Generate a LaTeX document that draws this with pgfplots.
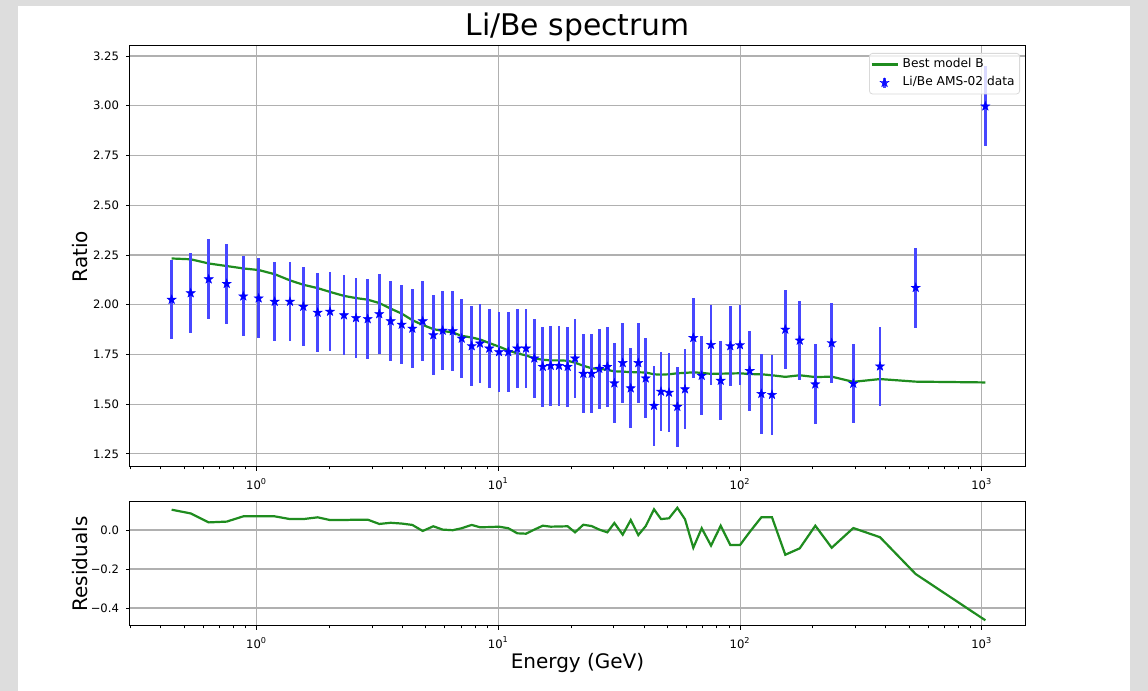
\documentclass[border=0pt]{standalone}
\usepackage{fontspec}
\setmainfont{DejaVu Sans}
\usepackage{pgfplots}
\usepackage{pgfplotstable}
\pgfplotsset{compat=1.18}

\definecolor{mgreen}{HTML}{1F8C1F}
\definecolor{bordergray}{HTML}{DDDDDD}
\definecolor{gridgray}{HTML}{B0B0B0}

% filled five-pointed star, like matplotlib's '*'
\pgfdeclareplotmark{fstar}{%
  \pgfpathmoveto{\pgfpointpolar{90}{\pgfplotmarksize}}%
  \pgfpathlineto{\pgfpointpolar{126}{0.4\pgfplotmarksize}}%
  \pgfpathlineto{\pgfpointpolar{162}{\pgfplotmarksize}}%
  \pgfpathlineto{\pgfpointpolar{198}{0.4\pgfplotmarksize}}%
  \pgfpathlineto{\pgfpointpolar{234}{\pgfplotmarksize}}%
  \pgfpathlineto{\pgfpointpolar{270}{0.4\pgfplotmarksize}}%
  \pgfpathlineto{\pgfpointpolar{306}{\pgfplotmarksize}}%
  \pgfpathlineto{\pgfpointpolar{342}{0.4\pgfplotmarksize}}%
  \pgfpathlineto{\pgfpointpolar{18}{\pgfplotmarksize}}%
  \pgfpathlineto{\pgfpointpolar{54}{0.4\pgfplotmarksize}}%
  \pgfpathclose
  \pgfusepathqfillstroke
}

\newcommand\tickfont{\fontsize{5.8}{6.5}\selectfont}
\newcommand\labfont{\fontsize{8.2}{9.5}\selectfont}

% E (GeV), Li/Be ratio, error, model B, residual
\pgfplotstableread{
E ratio err model res
0.4448 2.025 0.2 2.232 0.104
0.5333 2.058 0.2 2.228 0.085
0.6330 2.128 0.2 2.207 0.039
0.7515 2.105 0.2 2.194 0.043
0.8800 2.042 0.2 2.182 0.070
1.019 2.032 0.2 2.174 0.070
1.187 2.015 0.2 2.153 0.070
1.373 2.015 0.2 2.122 0.056
1.559 1.990 0.2 2.100 0.056
1.788 1.960 0.2 2.083 0.065
2.011 1.965 0.2 2.064 0.051
2.297 1.947 0.2 2.044 0.051
2.576 1.933 0.2 2.033 0.053
2.879 1.928 0.2 2.025 0.053
3.215 1.953 0.2 2.008 0.031
3.584 1.917 0.2 1.980 0.037
3.981 1.900 0.2 1.955 0.033
4.404 1.880 0.2 1.922 0.026
4.862 1.917 0.2 1.898 -0.005
5.379 1.847 0.2 1.877 0.019
5.882 1.870 0.2 1.868 0.002
6.471 1.867 0.2 1.860 -0.001
7.051 1.830 0.2 1.843 0.009
7.755 1.792 0.2 1.835 0.026
8.392 1.805 0.2 1.825 0.014
9.171 1.780 0.2 1.807 0.015
10.06 1.762 0.2 1.789 0.017
10.99 1.762 0.2 1.770 0.009
11.97 1.780 0.2 1.755 -0.017
13.01 1.780 0.2 1.745 -0.019
14.08 1.730 0.2 1.730 0.002
15.26 1.688 0.2 1.723 0.022
16.46 1.693 0.2 1.720 0.017
17.81 1.693 0.2 1.720 0.018
19.35 1.688 0.2 1.718 0.019
20.75 1.730 0.2 1.708 -0.012
22.46 1.653 0.2 1.693 0.027
24.32 1.653 0.2 1.680 0.020
26.15 1.678 0.2 1.678 0.002
28.22 1.688 0.2 1.672 -0.012
30.18 1.605 0.2 1.665 0.036
32.68 1.707 0.2 1.663 -0.024
35.28 1.580 0.2 1.661 0.051
37.92 1.707 0.2 1.660 -0.026
40.69 1.630 0.2 1.659 0.020
44.04 1.492 0.2 1.650 0.106
47.07 1.563 0.2 1.648 0.056
50.80 1.558 0.2 1.650 0.060
54.99 1.487 0.2 1.655 0.114
59.16 1.575 0.2 1.657 0.055
64.03 1.833 0.2 1.660 -0.091
69.36 1.643 0.2 1.657 0.009
75.81 1.798 0.2 1.652 -0.080
83.13 1.618 0.2 1.653 0.022
91.09 1.792 0.2 1.654 -0.077
99.9 1.797 0.2 1.655 -0.077
109.6 1.667 0.2 1.651 -0.010
122.4 1.552 0.2 1.650 0.065
135.5 1.547 0.2 1.645 0.065
153.8 1.875 0.2 1.637 -0.127
176.5 1.820 0.2 1.645 -0.094
204.7 1.600 0.2 1.636 0.022
239.3 1.807 0.2 1.638 -0.091
294.0 1.603 0.2 1.612 0.010
379.2 1.690 0.2 1.626 -0.037
532.7 2.085 0.2 1.613 -0.226
1034 2.997 0.2 1.609 -0.463
}\libe

\pgfplotsset{
  lbaxis/.style={
    scale only axis,
    width=447.5pt,
    xmin=0.2991, xmax=1509,
    xtick={1,10,100,1000},
    xticklabels={10\textsuperscript{0},10\textsuperscript{1},10\textsuperscript{2},10\textsuperscript{3}},
    minor xtick={0.3,0.4,0.5,0.6,0.7,0.8,0.9,2,3,4,5,6,7,8,9,20,30,40,50,60,70,80,90,200,300,400,500,600,700,800,900},
    tick pos=left,
    tick align=outside,
    major tick length=2pt,
    minor tick length=1.2pt,
    tick style={black, line width=0.4pt},
    tick label style={font=\tickfont},
    /pgf/number format/assume math mode=true,
    grid=major,
    major grid style={gridgray, line width=0.6pt},
    axis line style={black, line width=0.5pt},
    label style={font=\labfont},
  },
}

\begin{document}
\begin{tikzpicture}
\fill[bordergray] (0pt,0pt) rectangle (574pt,345.5pt);
\fill[white] (9pt,0pt) rectangle (565pt,342.5pt);

\begin{semilogxaxis}[
  lbaxis,
  at={(65pt,112pt)}, anchor=south west,
  height=210.5pt,
  ymin=1.184, ymax=3.300,
  ytick={1.25,1.5,1.75,2,2.25,2.5,2.75,3,3.25},
  yticklabel style={/pgf/number format/.cd, fixed, fixed zerofill, precision=2},
  ylabel={Ratio},
  every axis y label/.style={at={(axis description cs:-0.056,0.5)}, rotate=90, anchor=center},
  title={Li/Be spectrum},
  every axis title/.style={at={(axis description cs:0.5,1)}, anchor=base, yshift=5pt, font=\fontsize{14.9}{17}\selectfont},
]
\addplot[mgreen, line width=1.1pt] table[x=E, y=model] {\libe};
\addplot[only marks, blue, mark=fstar, mark size=2.4pt,
  mark options={fill=blue, draw=blue, line width=0.2pt},
  error bars/.cd, y dir=both, y explicit, error mark=none,
  error bar style={blue!72, line width=1.4pt}]
  table[x=E, y=ratio, y error=err] {\libe};
\end{semilogxaxis}

% legend drawn in an overlaid empty axis so that it lies above the error bars
\begin{axis}[
  at={(65pt,112pt)}, anchor=south west,
  scale only axis, width=447.5pt, height=210.5pt,
  xmin=0, xmax=1, ymin=0, ymax=1, hide axis,
  legend style={at={(rel axis cs:1,1)}, anchor=north east, xshift=-2.5pt, yshift=-3.5pt,
    draw=black!15, rounded corners=1.5pt, fill=white, fill opacity=0.8, text opacity=1,
    font=\fontsize{6.1}{7}\selectfont, inner xsep=0.5pt, inner ysep=0.5pt, row sep=-1pt,
    cells={anchor=west}},
]
\addlegendimage{mgreen, line width=1.1pt,
  legend image code/.code={\draw[mgreen, line width=1.1pt] (0pt,0pt) -- (13pt,0pt);}}
\addlegendentry{Best model B}
\addlegendimage{blue,
  legend image code/.code={
    \draw[blue!72, line width=1.4pt] (6.5pt,-2.6pt) -- (6.5pt,2.6pt);
    \draw[only marks, mark=fstar, mark size=2.4pt, mark options={fill=blue, draw=blue, line width=0.2pt}] plot coordinates {(6.5pt,0pt)};}}
\addlegendentry{Li/Be AMS-02 data}
\end{axis}

\begin{semilogxaxis}[
  lbaxis,
  at={(65pt,32.5pt)}, anchor=south west,
  height=62pt,
  ymin=-0.4923, ymax=0.1436,
  ytick={-0.4,-0.2,0},
  yticklabels={−0.4,−0.2,0.0},
  ylabel={Residuals},
  every axis y label/.style={at={(axis description cs:-0.056,0.5)}, rotate=90, anchor=center},
  xlabel={Energy (GeV)},
  every axis x label/.style={at={(axis description cs:0.5,0)}, anchor=base, yshift=-21.5pt},
]
\addplot[mgreen, line width=1.1pt] table[x=E, y=res] {\libe};
\end{semilogxaxis}

\pgfresetboundingbox
\path (0pt,0pt) rectangle (574pt,345.5pt);
\end{tikzpicture}
\end{document}
